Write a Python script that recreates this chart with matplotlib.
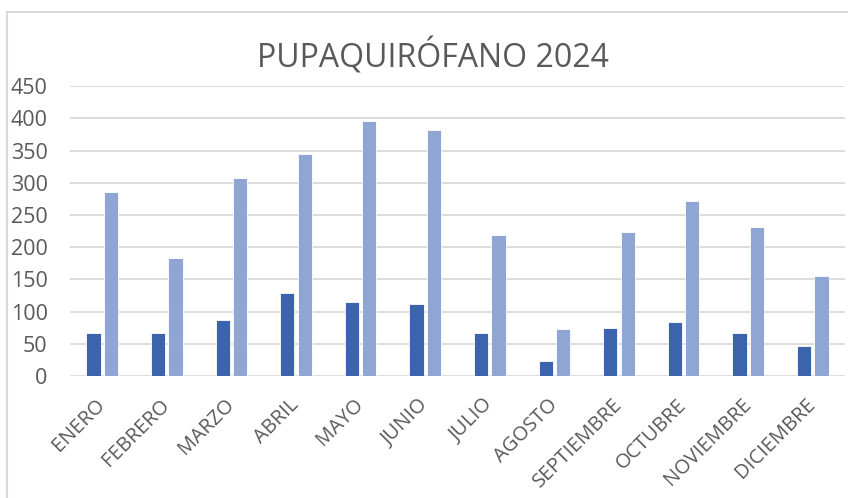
import numpy as np
import matplotlib.pyplot as plt
from matplotlib.patches import Rectangle
from matplotlib.transforms import ScaledTranslation

# Data
meses = ['ENERO', 'FEBRERO', 'MARZO', 'ABRIL', 'MAYO', 'JUNIO', 'JULIO',
         'AGOSTO', 'SEPTIEMBRE', 'OCTUBRE', 'NOVIEMBRE', 'DICIEMBRE']
serie1 = [66, 67, 87, 129, 115, 112, 67, 24, 75, 84, 66, 46]
serie2 = [285, 183, 308, 345, 396, 382, 219, 73, 223, 272, 232, 156]
yticks = [0, 50, 100, 150, 200, 250, 300, 350, 400, 450]

plt.rcParams['font.family'] = ['Open Sans', 'DejaVu Sans']
gris = '#595959'

fig = plt.figure(figsize=(8.48, 4.98), dpi=100)
ax = fig.add_axes([0.0825, 0.245, 0.914, 0.582])

x = np.arange(len(meses))
w = 0.22
ax.bar(x - 0.135, serie1, width=w, color='#3C64AD', edgecolor='white', linewidth=0.6, zorder=3)
ax.bar(x + 0.135, serie2, width=w, color='#8FA5D4', edgecolor='white', linewidth=0.6, zorder=3)

ax.set_xlim(-0.5, len(meses) - 0.5)
ax.set_ylim(0, 450)
ax.set_yticks(yticks)
ax.yaxis.grid(True, color='#D9D9D9', linewidth=1.3, zorder=0)
ax.tick_params(axis='y', length=0, labelsize=15.5, labelcolor=gris, pad=16)
ax.tick_params(axis='x', length=0, labelsize=14.5, labelcolor=gris)
for s in ax.spines.values():
    s.set_visible(False)

ax.set_xticks(x)
ax.set_xticklabels(meses, rotation=45, ha='right', va='top', rotation_mode='anchor')
off = ScaledTranslation(-0.07, -0.14, fig.dpi_scale_trans)
for lbl in ax.get_xticklabels():
    lbl.set_transform(lbl.get_transform() + off)

fig.text(0.511, 0.885, 'PUPAQUIRÓFANO 2024', ha='center', va='center',
         fontsize=23, color=gris)

# chart border
fig.patches.append(Rectangle((7 / 848, -0.05), 1.1, 1 - 12 / 498 + 0.05,
                             transform=fig.transFigure, fill=False,
                             edgecolor='#D9D9D9', linewidth=1.5))

plt.savefig('out.png', dpi=100)
